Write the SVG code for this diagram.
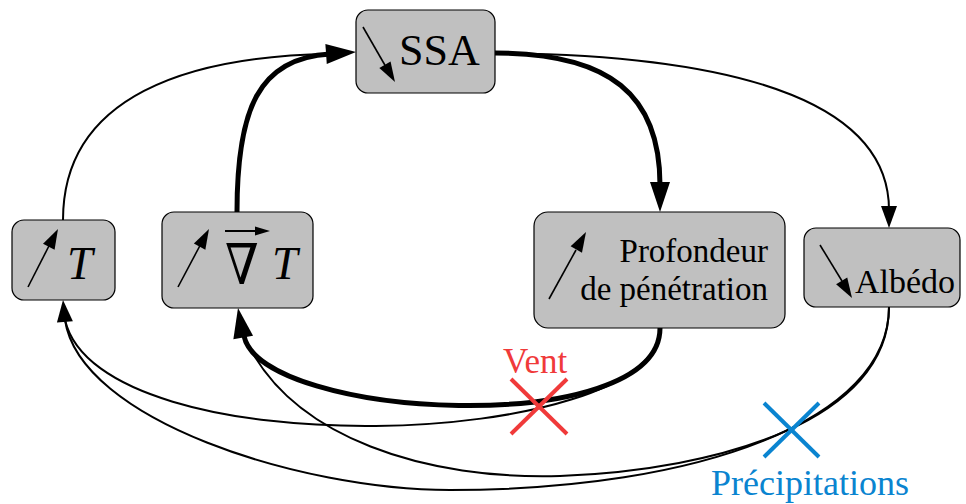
<svg xmlns="http://www.w3.org/2000/svg" xmlns:xlink="http://www.w3.org/1999/xlink" width="966" height="504" viewBox="0 0 966 504">
<style>
.box{fill:#c0c0c0;stroke:#000;stroke-width:1.2}
.txt{font-family:"Liberation Serif","Times New Roman",serif;fill:#000}
.it{font-style:italic}
.thin{fill:none;stroke:#000;stroke-width:2}
.thick{fill:none;stroke:#000;stroke-width:5}
.icon{fill:none;stroke:#000;stroke-width:1.6}
.ah{fill:#000;stroke:none}
</style>
<defs>
<path id="ahL" d="M0,0 L-30,-10 L-30,10 Z"/>
<path id="ahS" d="M0,0 L-22,-8 L-22,8 Z"/>
<path id="ahI" d="M0,0 L-20,-6.5 L-20,6.5 Z"/>
<path id="ahV" d="M0,0 L-15,-4.5 L-15,4.5 Z"/>
</defs>

<g id="connectors">
<path class="thin" d="M63,220 C63,95 190,56 330,54"/>
<use href="#ahL" class="ah" transform="translate(356,52) rotate(-4)"/>
<path class="thick" d="M237,212 C237,110 258,58 330,54"/>
<path class="thick" d="M495,53 C610,53 660,95 660,185"/>
<use href="#ahL" class="ah" transform="translate(660,212) rotate(90)"/>
<path class="thin" d="M495,53 C760,55 889,110 889,210"/>
<use href="#ahS" class="ah" transform="translate(889,228) rotate(90)"/>
<path class="thick" d="M660,328 C660,440 262,420 244,336"/>
<use href="#ahL" class="ah" transform="translate(238,308) rotate(-100)"/>
<path class="thin" d="M660,328 C660,450 100,470 65,320"/>
<use href="#ahS" class="ah" transform="translate(63,300) rotate(-95)"/>
<path class="thin" d="M889,307 C889,420 700,490 450,490 C300,490 80,420 65,320"/>
<path class="thin" d="M889,307 C889,420 720,470 560,476 C430,480 290,440 244,336"/>
</g>

<g id="vent">
<line x1="511" y1="379" x2="567" y2="434" stroke="#f03a3a" stroke-width="4"/>
<line x1="567" y1="379" x2="511" y2="434" stroke="#f03a3a" stroke-width="4"/>
<text x="503" y="373" class="txt" style="fill:#f03a3a" font-size="35">Vent</text>
</g>

<g id="precipitations">
<line x1="764" y1="403" x2="819" y2="457" stroke="#0a84d0" stroke-width="4"/>
<line x1="819" y1="403" x2="764" y2="457" stroke="#0a84d0" stroke-width="4"/>
<text x="711" y="495" class="txt" style="fill:#0a84d0" font-size="36">Précipitations</text>
</g>

<g id="node-T">
<rect class="box" x="12" y="220" width="103" height="80" rx="12"/>
<line class="icon" x1="28" y1="287" x2="53" y2="238"/>
<use href="#ahI" class="ah" transform="translate(58,229) rotate(-62.6)"/>
<text x="67" y="279" class="txt it" font-size="46">T</text>
</g>

<g id="node-gradT">
<rect class="box" x="162" y="212" width="151" height="96" rx="12"/>
<line class="icon" x1="178" y1="287" x2="204" y2="238"/>
<use href="#ahI" class="ah" transform="translate(209,229) rotate(-62)"/>
<line x1="225" y1="231" x2="258" y2="231" stroke="#000" stroke-width="2"/>
<use href="#ahV" class="ah" transform="translate(270,231)"/>
<text transform="translate(225,284) scale(1.05,1.22)" class="txt" font-size="46" style="font-family:'DejaVu Serif',serif">∇</text>
<text x="272" y="279" class="txt it" font-size="46">T</text>
</g>

<g id="node-SSA">
<rect class="box" x="356" y="10" width="139" height="83" rx="12"/>
<line class="icon" x1="363" y1="27" x2="386" y2="67"/>
<use href="#ahI" class="ah" transform="translate(395,82) rotate(59.8)"/>
<text x="399" y="65" class="txt" font-size="44">SSA</text>
</g>

<g id="node-profondeur">
<rect class="box" x="534" y="212" width="251" height="116" rx="14"/>
<line class="icon" x1="549" y1="299" x2="576" y2="250"/>
<use href="#ahI" class="ah" transform="translate(586,232) rotate(-61)"/>
<text x="768" y="262" class="txt" font-size="33" text-anchor="end">Profondeur</text>
<text x="768" y="300" class="txt" font-size="33" text-anchor="end">de pénétration</text>
</g>

<g id="node-albedo">
<rect class="box" x="804" y="228" width="156" height="79" rx="12"/>
<line class="icon" x1="820" y1="245" x2="842" y2="281"/>
<use href="#ahI" class="ah" transform="translate(852,298) rotate(58.9)"/>
<text x="855" y="293" class="txt" font-size="34">Albédo</text>
</g>
</svg>
